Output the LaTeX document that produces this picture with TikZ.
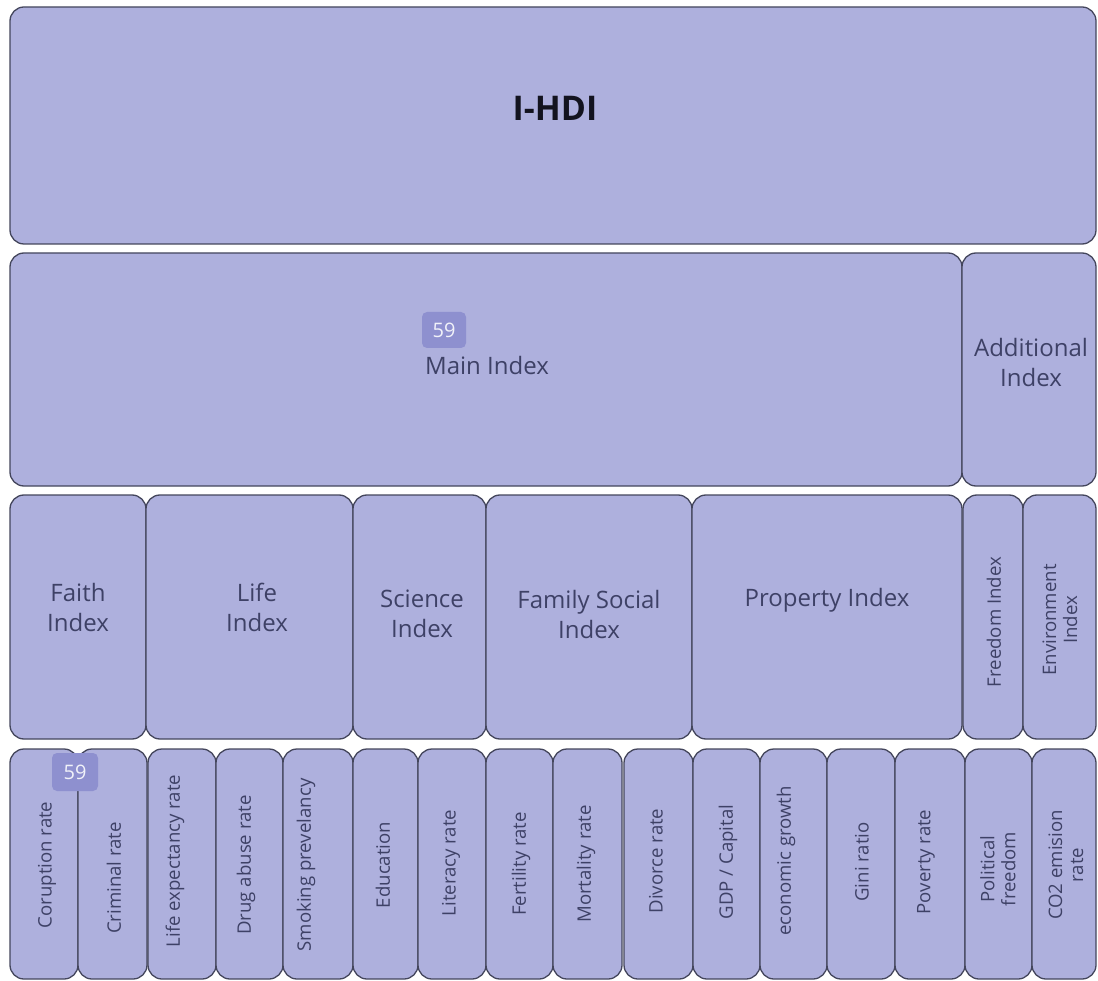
\documentclass[tikz,border=0pt]{standalone}
\usepackage{fontspec}
\setmainfont{Open Sans}
\definecolor{boxfill}{HTML}{AEB0DD}
\definecolor{boxline}{HTML}{44465C}
\definecolor{txt}{HTML}{3E4166}
\definecolor{badgefill}{HTML}{8E90CF}
\tikzset{
  box/.style={draw=boxline, line width=1.3pt, fill=boxfill, rounded corners=14pt, inner sep=0pt},
  lbl/.style={text=txt, align=center, inner sep=0pt, font=\fontsize{24}{30}\selectfont},
  vlbl/.style={text=txt, align=center, inner sep=0pt, rotate=90, font=\fontsize{18.6}{21}\selectfont},
  badgebox/.style={fill=badgefill, rounded corners=5pt, text=white!88!badgefill, inner sep=0pt,
    font=\fontsize{20}{20}\selectfont, minimum width=44pt, minimum height=36pt},
  titlelbl/.style={text=black!70!txt, inner sep=0pt, font=\fontsize{34}{34}\selectfont\bfseries}
}
\newcommand\bx[5]{\node[box, minimum width={(#4-#2)*1pt}, minimum height={(#5-#3)*1pt}] (#1) at ({(#2+#4)/2},{(#3+#5)/2}) {};}
\begin{document}
\begin{tikzpicture}[x=1pt,y=-1pt]
\useasboundingbox (0,0) rectangle (1098,981);
\fill[white] (0,0) rectangle (1098,981);
% row 1
\bx{hdi}{10}{7}{1096}{244}
\node[titlelbl] (hdit) at (555,108) {I-HDI};
% row 2
\bx{main}{10}{253}{962}{486}
\bx{add}{962}{253}{1096}{486}
\node[lbl] (maint) at (487,366) {Main Index};
\node[lbl] (addt) at (1031,363) {Additional\\Index};
\node[badgebox] (badgeA) at (444,330) {59};
% row 3
\bx{faith}{10}{495}{146}{739}
\bx{life}{146}{495}{353}{739}
\bx{sci}{353}{495}{486}{739}
\bx{fam}{486}{495}{692}{739}
\bx{prop}{692}{495}{962}{739}
\bx{free}{963}{495}{1023}{739}
\bx{env}{1023}{495}{1096}{739}
\node[lbl] (faitht) at (78,607) {Faith\\Index};
\node[lbl] (lifet) at (257,607) {Life\\Index};
\node[lbl] (scit) at (422,614) {Science\\Index};
\node[lbl] (famt) at (589,614) {Family Social\\Index};
\node[lbl] (propt) at (827,600) {Property Index};
\node[vlbl] (freet) at (994,622) {Freedom Index};
\node[vlbl] (envt) at (1060,620) {Environment\\Index};
% row 4
\bx{c1}{10}{749}{78}{979}
\bx{c2}{78}{749}{147}{979}
\bx{c3}{148}{749}{216}{979}
\bx{c4}{216}{749}{283}{979}
\bx{c5}{283}{749}{353}{979}
\bx{c6}{353}{749}{418}{979}
\bx{c7}{418}{749}{486}{979}
\bx{c8}{486}{749}{553}{979}
\bx{c9}{553}{749}{622}{979}
\bx{c10}{624}{749}{693}{979}
\bx{c11}{693}{749}{760}{979}
\bx{c12}{760}{749}{827}{979}
\bx{c13}{827}{749}{895}{979}
\bx{c14}{895}{749}{965}{979}
\bx{c15}{965}{749}{1032}{979}
\bx{c16}{1032}{749}{1096}{979}
\node[vlbl] (t1) at (47,865) {Coruption rate};
\node[vlbl] (t2) at (114,878) {Criminal rate};
\node[vlbl] (t3) at (175,861) {Life expectancy rate};
\node[vlbl] (t4) at (246,865) {Drug abuse rate};
\node[vlbl] (t5) at (306,865) {Smoking prevelancy};
\node[vlbl] (t6) at (383,865) {Education};
\node[vlbl] (t7) at (451,863) {Literacy rate};
\node[vlbl] (t8) at (521,864) {Fertility rate};
\node[vlbl] (t9) at (586,864) {Mortality rate};
\node[vlbl] (t10) at (656,861) {Divorce rate};
\node[vlbl] (t11) at (728,862) {GDP / Capital};
\node[vlbl] (t12) at (786,861) {economic growth};
\node[vlbl] (t13) at (862,862) {Gini ratio};
\node[vlbl] (t14) at (926,862) {Poverty rate};
\node[vlbl] (t15) at (998,869) {Political\\freedom};
\node[vlbl] (t16) at (1066,865) {CO2 emision\\rate};
\node[badgebox, minimum width=46pt, minimum height=38pt] (badgeB) at (75,772) {59};
\end{tikzpicture}
\end{document}
